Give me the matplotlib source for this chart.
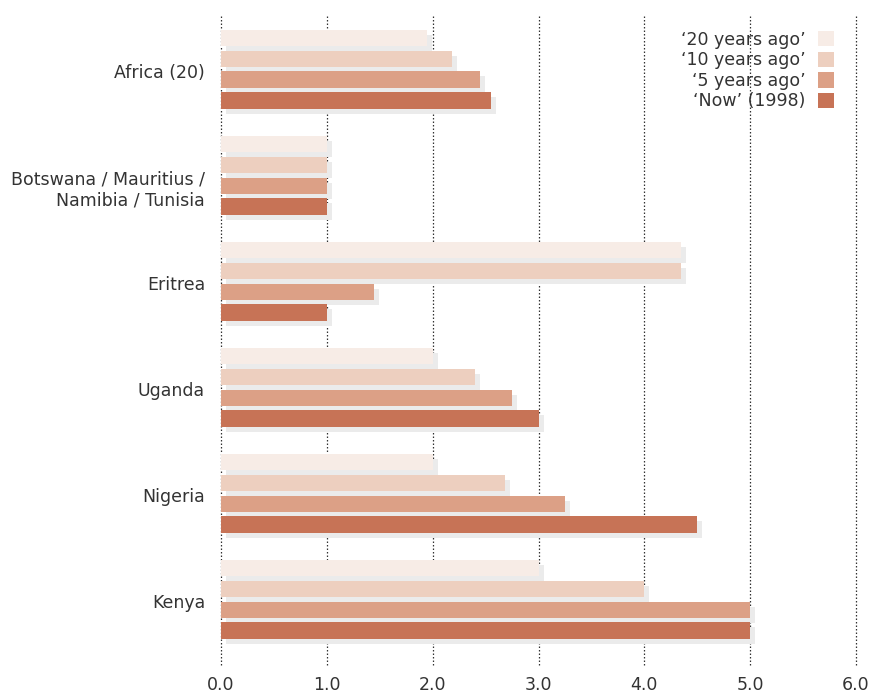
import matplotlib
matplotlib.use("Agg")
import matplotlib.pyplot as plt
import matplotlib.transforms as mtransforms
from matplotlib.patches import Patch
import numpy as np

plt.rcParams['font.family'] = ['DejaVu Sans']

categories = ["Africa (20)", "Botswana / Mauritius /\nNamibia / Tunisia", "Eritrea",
              "Uganda", "Nigeria", "Kenya"]
series_names = ["\u201820 years ago\u2019", "\u201810 years ago\u2019",
                "\u20185 years ago\u2019", "\u2018Now\u2019 (1998)"]
years20 = [1.95, 1.0, 4.35, 2.0, 2.0, 3.0]
years10 = [2.18, 1.0, 4.35, 2.4, 2.68, 4.0]
years5 = [2.45, 1.0, 1.45, 2.75, 3.25, 5.0]
now = [2.55, 1.0, 1.0, 3.0, 4.5, 5.0]
xticks = [0, 1, 2, 3, 4, 5, 6]
xticklabels = ["0.0", "1.0", "2.0", "3.0", "4.0", "5.0", "6.0"]

colors = ["#f7ece6", "#edcfbf", "#dca086", "#c77356"]
series = [years20, years10, years5, now]
text_color = "#333333"

fig = plt.figure(figsize=(8.78, 6.94), dpi=100)
ax = fig.add_axes([221/878, 1-665/694, (856-221)/878, (665-15)/694])

y = np.arange(len(categories))
step = 0.198
h = 0.16
offsets = (np.arange(4) - 1.5) * step

shadow_tr = mtransforms.offset_copy(ax.transData, fig=fig, x=5, y=-5, units='dots')
for i, vals in enumerate(series):
    ax.barh(y + offsets[i], vals, height=h, color="#ebebeb", transform=shadow_tr,
            zorder=2, linewidth=0)
for i, vals in enumerate(series):
    ax.barh(y + offsets[i], vals, height=h, color=colors[i], zorder=3, linewidth=0)

ax.set_xlim(0, 6)
ax.set_ylim(5.618, -0.514)
ax.set_xticks(xticks)
ax.set_xticklabels(xticklabels)
ax.set_yticks(y)
ax.set_yticklabels(categories, linespacing=1.2)
ax.tick_params(axis='both', length=0, labelsize=12.5, colors=text_color)
ax.tick_params(axis='x', pad=8)
ax.tick_params(axis='y', pad=11.5)
for s in ax.spines.values():
    s.set_visible(False)
for xv in xticks:
    ax.axvline(xv, color="#333333", linestyle=(0, (1.2, 1.6)), linewidth=0.9,
               zorder=1, clip_on=False)

# nudge labels down slightly as in the reference
for k, lab in enumerate(ax.get_yticklabels()):
    dy = -11 if k == 1 else -2
    lab.set_transform(lab.get_transform() +
                      mtransforms.ScaledTranslation(0, dy / 100, fig.dpi_scale_trans))

handles = [Patch(facecolor=c, edgecolor='none') for c in colors]
leg = ax.legend(handles, series_names, loc='upper right', bbox_to_anchor=(0.99, 1.0),
                frameon=False, markerfirst=False, fontsize=12.5,
                handlelength=0.95, handleheight=1.0, labelspacing=0.15,
                handletextpad=0.7, borderaxespad=0.5)
for t in leg.get_texts():
    t.set_color(text_color)

fig.savefig("out.png", dpi=100)
